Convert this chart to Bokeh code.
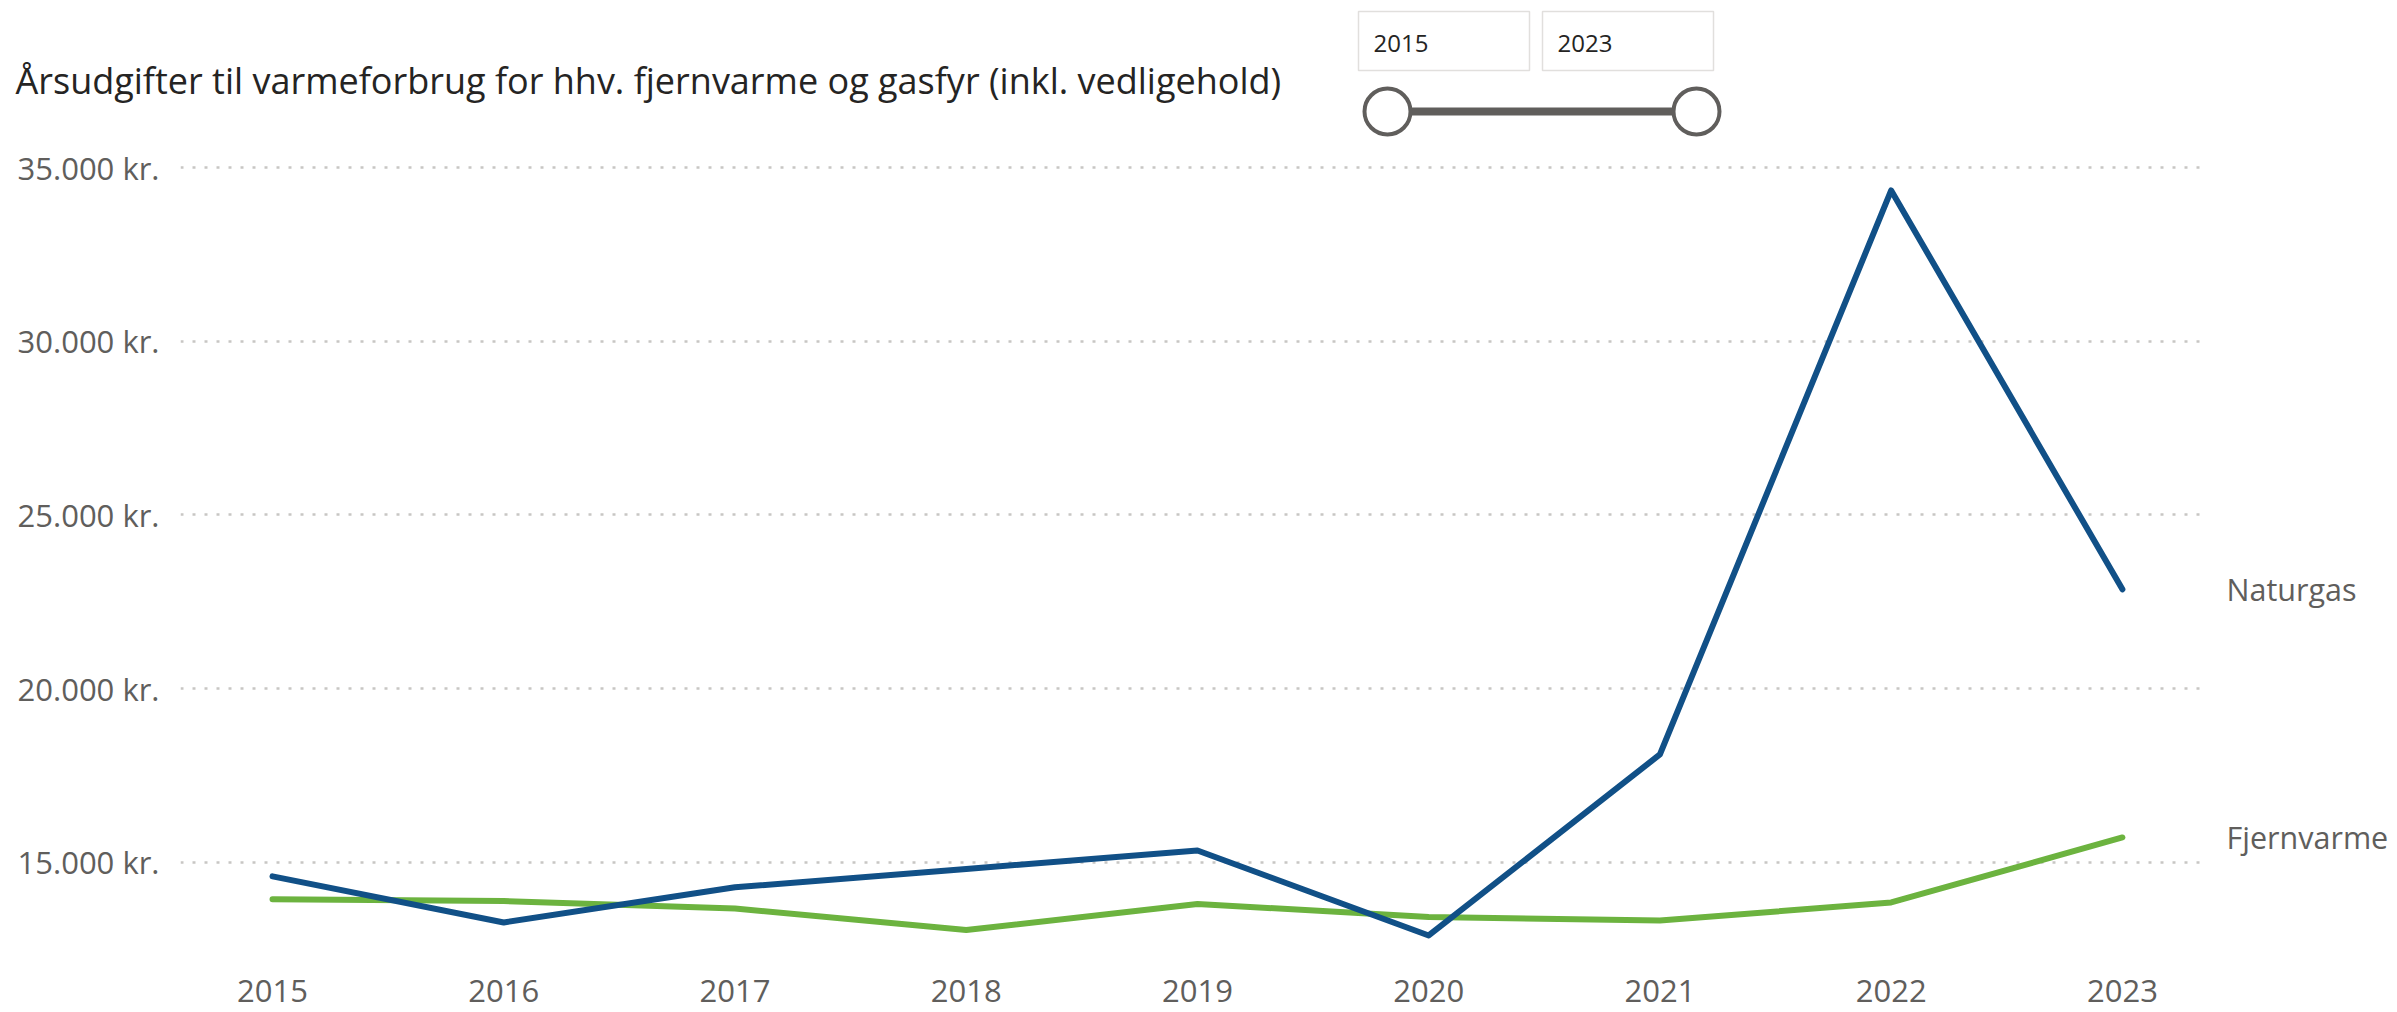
from bokeh.plotting import figure
from bokeh.models import ColumnDataSource, FixedTicker, Range1d
from bokeh.layouts import column, row
from bokeh.core.properties import value
from bokeh.embed import file_html
from bokeh.resources import INLINE

# ---- data ----
years = [2015, 2016, 2017, 2018, 2019, 2020, 2021, 2022, 2023]
naturgas = [14600, 13275, 14285, 14815, 15345, 12900, 18110, 34340, 22860]
fjernvarme = [13940, 13890, 13676, 13055, 13805, 13430, 13330, 13850, 15720]
series_names = ["Naturgas", "Fjernvarme"]
y_ticks = [15000, 20000, 25000, 30000, 35000]
y_tick_labels = ["15.000 kr.", "20.000 kr.", "25.000 kr.", "30.000 kr.", "35.000 kr."]
x_tick_labels = [str(y) for y in years]
title_text = "Årsudgifter til varmeforbrug for hhv. fjernvarme og gasfyr (inkl. vedligehold)"
slicer_values = [str(years[0]), str(years[-1])]

FONT = "Open Sans"
GRAY = "#605E5C"
DARK = "#252423"
BLUE = "#115087"
GREEN = "#6CB33F"

TOTAL_W = 2397
HEAD_H = 140
MAIN_H = 871
MAIN_W = 2207
BOTTOM = 45

# ---------------- header (title + year slicer) ----------------
head = figure(width=TOTAL_W, height=HEAD_H, output_backend="svg", toolbar_location=None,
              x_range=Range1d(0, TOTAL_W), y_range=Range1d(HEAD_H, 0),
              x_axis_location=None, y_axis_location=None,
              min_border=0, min_border_left=0, min_border_right=0,
              min_border_top=0, min_border_bottom=0)
head.outline_line_color = None
head.grid.visible = False
head.text(x=[15], y=[80], text=[title_text], text_font=value(FONT), text_font_size="36px",
          text_color=DARK, text_baseline="middle", text_align="left")
box_left = [1358, 1542]
box_w = 171
head.quad(left=box_left, right=[b + box_w for b in box_left], top=[11, 11], bottom=[70, 70],
          fill_color="white", line_color="#E1DFDD", line_width=1.5)
head.text(x=[b + 15 for b in box_left], y=[43, 43], text=slicer_values, text_font=value(FONT),
          text_font_size="24px", text_color=DARK, text_baseline="middle", text_align="left")
knob_x = [1387, 1696]
head.segment(x0=[knob_x[0]], y0=[111], x1=[knob_x[1]], y1=[111], line_color=GRAY,
             line_width=8, line_cap="butt")
head.scatter(x=knob_x, y=[111, 111], size=46, marker="circle", fill_color="white",
             line_color=GRAY, line_width=4)

# ---------------- main chart ----------------
yr = Range1d(12007, 35777)
p = figure(width=MAIN_W, height=MAIN_H, output_backend="svg", toolbar_location=None,
           x_range=Range1d(2014.602, 2023.368), y_range=yr,
           min_border_left=180, min_border_right=0, min_border_top=0, min_border_bottom=BOTTOM)
p.outline_line_color = None

src = ColumnDataSource(dict(x=years, n=naturgas, f=fjernvarme))
p.line("x", "f", source=src, line_color=GREEN, line_width=6, line_join="round", line_cap="round")
p.line("x", "n", source=src, line_color=BLUE, line_width=6, line_join="round", line_cap="round")

p.xaxis.ticker = FixedTicker(ticks=years)
p.xaxis.major_label_overrides = {y: s for y, s in zip(years, x_tick_labels)}
p.yaxis.ticker = FixedTicker(ticks=y_ticks)
p.yaxis.major_label_overrides = {t: s for t, s in zip(y_ticks, y_tick_labels)}
for ax in (p.xaxis[0], p.yaxis[0]):
    ax.axis_line_color = None
    ax.major_tick_line_color = None
    ax.minor_tick_line_color = None
    ax.major_tick_out = 0
    ax.major_tick_in = 0
    ax.minor_tick_out = 0
    ax.minor_tick_in = 0
    ax.major_label_text_font = FONT
    ax.major_label_text_font_size = "31px"
    ax.major_label_text_color = GRAY
p.xaxis.major_label_standoff = 13
p.yaxis.major_label_standoff = 21

p.xgrid.grid_line_color = None
p.ygrid.grid_line_color = "#C8C6C4"
p.ygrid.grid_line_width = 2.5
p.ygrid.grid_line_dash = "3 9"

# ---------------- right-hand series labels ----------------
side = figure(width=TOTAL_W - MAIN_W, height=MAIN_H, output_backend="svg", toolbar_location=None,
              x_range=Range1d(0, TOTAL_W - MAIN_W), y_range=yr,
              x_axis_location=None, y_axis_location=None,
              min_border_left=0, min_border_right=0, min_border_top=0, min_border_bottom=BOTTOM)
side.outline_line_color = None
side.grid.visible = False
side.text(x=[0, 0], y=[naturgas[-1], fjernvarme[-1]], text=series_names, x_offset=19,
          text_font=value(FONT), text_font_size="30.5px", text_color=GRAY,
          text_baseline="middle", text_align="left")

layout = column(head, row(p, side, spacing=0), spacing=0)
open("out.html", "w").write(file_html(layout, INLINE))
